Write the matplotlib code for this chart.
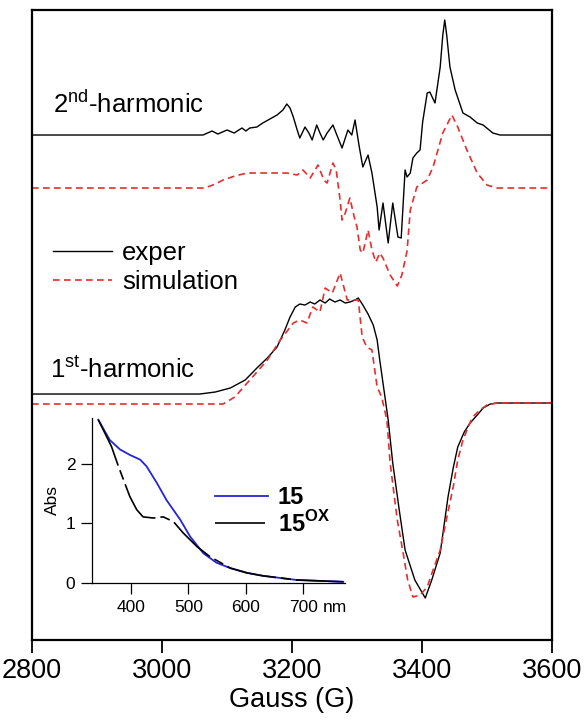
import matplotlib
matplotlib.use("Agg")
import matplotlib.pyplot as plt

plt.rcParams['font.family'] = ['Liberation Sans', 'DejaVu Sans']
plt.rcParams['mathtext.fontset'] = 'custom'
plt.rcParams['mathtext.rm'] = 'Liberation Sans'
plt.rcParams['mathtext.bf'] = 'Liberation Sans:bold'

# ---- EPR data (field in G, signal relative to its own baseline, a.u.) ----
exp2_G = [2800, 3063, 3077, 3086, 3100, 3111, 3123, 3129, 3135, 3146, 3155, 3166,
          3177, 3186, 3192, 3197, 3202, 3208, 3212, 3220, 3226, 3231, 3238, 3243,
          3248, 3254, 3263, 3269, 3277, 3282, 3286, 3292, 3297, 3303, 3309, 3317,
          3323, 3331, 3334, 3340, 3348, 3355, 3363, 3368, 3374, 3377, 3382, 3386,
          3392, 3397, 3401, 3408, 3412, 3420, 3428, 3432, 3435, 3438, 3443, 3451,
          3463, 3474, 3485, 3494, 3509, 3520, 3600]
exp2_S = [0, 0, 4, 1, 5, 2, 7, 4, 7, 8, 12, 16,
          20, 25, 31, 27, 18, 5, -3, 8, 2, -5, 10, 2,
          -5, 2, 10, 0, -13, -3, 5, 0, 15, -10, -32, -20,
          -38, -72, -95, -68, -108, -68, -102, -103, -35, -42, -38, -23,
          -18, -15, 13, 42, 43, 32, 68, 100, 115, 100, 68, 45,
          22, 18, 12, 10, 2, 0, 0]

sim2_G = [2800, 3066, 3082, 3094, 3112, 3131, 3162, 3192, 3208, 3217, 3228, 3240,
          3249, 3254, 3263, 3268, 3274, 3277, 3282, 3289, 3295, 3300, 3305, 3309,
          3317, 3323, 3329, 3335, 3340, 3351, 3362, 3369, 3377, 3382, 3392, 3408,
          3417, 3432, 3446, 3455, 3469, 3485, 3500, 3515, 3600]
sim2_S = [0, 0, 4, 8, 12, 15, 15, 15, 13, 18, 10, 23,
          8, 5, 25, 18, -12, -32, -25, -10, -27, -39, -62, -65,
          -42, -62, -74, -65, -70, -87, -98, -87, -63, -22, 1, 8,
          21, 55, 73, 61, 38, 15, 3, 0, 0]

exp1_G = [2800, 3058, 3082, 3105, 3128, 3146, 3162, 3177, 3189, 3197, 3205, 3212,
          3220, 3228, 3235, 3243, 3251, 3258, 3266, 3274, 3282, 3289, 3297, 3302,
          3309, 3317, 3325, 3331, 3335, 3340, 3348, 3355, 3365, 3374, 3389, 3405,
          3415, 3428, 3434, 3440, 3448, 3455, 3465, 3474, 3485, 3494, 3505, 3515,
          3600]
exp1_S = [0, 0, 2, 6, 14, 26, 36, 47, 64, 77, 87, 90,
          89, 92, 90, 94, 91, 95, 92, 94, 91, 92, 94, 96,
          89, 80, 69, 54, 34, 11, -26, -69, -116, -156, -186, -204,
          -186, -159, -131, -103, -74, -53, -38, -29, -21, -14, -10, -9,
          -9]

sim1_G = [2800, 3094, 3112, 3131, 3146, 3162, 3182, 3202, 3212, 3223, 3232, 3243,
          3251, 3262, 3274, 3285, 3294, 3302, 3308, 3315, 3323, 3331, 3338, 3346,
          3351, 3362, 3371, 3378, 3386, 3397, 3408, 3417, 3428, 3438, 3448, 3455,
          3463, 3471, 3478, 3489, 3500, 3515, 3600]
sim1_S = [0, 0, 7, 21, 32, 44, 64, 81, 84, 81, 97, 92,
          116, 111, 131, 104, 104, 104, 67, 57, 54, 17, 7, -16,
          -59, -116, -149, -176, -193, -191, -183, -166, -146, -114, -83, -56,
          -36, -23, -13, -6, -1, 1, 1]

# ---- UV-vis inset data ----
nm_15 = [343, 363, 381, 398, 416, 427, 445, 462, 486, 503, 526, 549, 573, 602, 630, 689, 770]
abs_15 = [2.74, 2.40, 2.24, 2.15, 2.07, 1.96, 1.68, 1.39, 1.06, 0.78, 0.50, 0.34, 0.25, 0.17, 0.12, 0.05, 0.02]
nm_ox = [343, 366, 378, 398, 410, 421, 439, 456, 474, 491, 515, 538, 573, 602, 630, 689, 770]
abs_ox = [2.74, 2.29, 1.96, 1.45, 1.23, 1.11, 1.09, 1.11, 1.03, 0.84, 0.61, 0.44, 0.25, 0.17, 0.12, 0.05, 0.02]

# vertical offsets of the stacked traces
off_exp2, off_sim2, off_exp1, off_sim1 = 505, 452, 246, 236

red = '#e62e2e'

fig = plt.figure(figsize=(5.84, 7.25), dpi=100)
ax = fig.add_axes([0.0548, 0.1172, 0.8904, 0.869])

ax.plot(exp2_G, [s + off_exp2 for s in exp2_S], color='black', lw=1.0, label='exper')
ax.plot(sim2_G, [s + off_sim2 for s in sim2_S], color=red, lw=1.2,
        linestyle=(0, (4, 2.6)), label='simulation')
ax.plot(exp1_G, [s + off_exp1 for s in exp1_S], color='black', lw=1.0)
ax.plot(sim1_G, [s + off_sim1 for s in sim1_S], color=red, lw=1.2, linestyle=(0, (4, 2.6)))

ax.set_xlim(2800, 3600)
ax.set_ylim(0, 630)
ax.set_xticks([2800, 3000, 3200, 3400, 3600])
ax.set_yticks([])
ax.tick_params(axis='x', direction='out', length=9, width=1.3, labelsize=19.5, pad=4)
for sp in ax.spines.values():
    sp.set_linewidth(1.6)
ax.set_xlabel('Gauss (G)', fontsize=19.5, labelpad=2)

ax.text(2832, 527, r'2$^{\mathrm{nd}}$-harmonic', fontsize=18.5, va='baseline')
ax.text(2828, 262, r'1$^{\mathrm{st}}$-harmonic', fontsize=18.5, va='baseline')

ax.legend(loc='center left', bbox_to_anchor=(0.04, 0.591), frameon=False,
          fontsize=18.5, handlelength=2.3, handletextpad=0.4, labelspacing=0.2,
          borderpad=0, borderaxespad=0)

# ---- inset ----
ax_in = fig.add_axes([0.1575, 0.1959, 0.4332, 0.2276])
ax_in.plot(nm_15, abs_15, color='#2424d8', lw=1.3, label='15')
ax_in.plot(nm_ox, abs_ox, color='black', lw=1.2, linestyle=(0, (30, 3, 6, 3)),
           label=r'15$^{\mathbf{OX}}$')
ax_in.set_xlim(332, 773)
ax_in.set_ylim(0, 2.77)
ax_in.set_xticks([400, 500, 600, 700])
ax_in.set_yticks([0, 1, 2])
ax_in.spines['top'].set_visible(False)
ax_in.spines['right'].set_visible(False)
ax_in.spines['left'].set_linewidth(0.9)
ax_in.spines['bottom'].set_linewidth(0.9)
ax_in.tick_params(direction='out', length=8, width=0.9, labelsize=12.5, pad=4)
ax_in.set_ylabel('Abs', fontsize=12.5, labelpad=4)
ax_in.patch.set_alpha(0)
ax_in.annotate('nm', xy=(700, 0), xycoords='data', xytext=(14, -17.5),
               textcoords='offset points', fontsize=12.5, ha='left', va='center')
ax_in.legend(loc='center left', bbox_to_anchor=(0.486, 0.433), frameon=False,
             prop={'size': 17, 'weight': 'bold'}, handlelength=2.25,
             handletextpad=0.4, labelspacing=0.05, borderpad=0, borderaxespad=0)

fig.savefig('out.png', dpi=100)
